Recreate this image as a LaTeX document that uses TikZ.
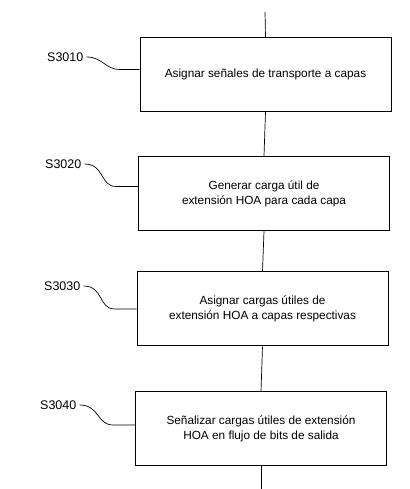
\documentclass[tikz,border=0pt]{standalone}
\usepackage{fontspec}
\setmainfont{Liberation Sans}
\begin{document}
\begin{tikzpicture}[x=1pt,y=1pt,
  stepbox/.style={draw, line width=1pt, minimum width=251pt, minimum height=74pt, align=center, font=\fontsize{11.8}{15}\selectfont, inner sep=0pt},
  steplabel/.style={font=\fontsize{12.5}{14}\selectfont, anchor=west, inner sep=1pt},
  flow/.style={line width=0.7pt},
  leader/.style={line width=0.7pt}]
\useasboundingbox (0,0) rectangle (409,489);
\fill[white] (0,0) rectangle (409,489);
\node[stepbox] (b1) at (265.5,414.5) {Asignar señales de transporte a capas};
\node[stepbox] (b2) at (264,295.5) {Generar carga útil de\\extensión HOA para cada capa};
\node[stepbox] (b3) at (262.5,180) {Asignar cargas útiles de\\extensión HOA a capas respectivas};
\node[stepbox] (b4) at (261,60) {Señalizar cargas útiles de extensión\\HOA en flujo de bits de salida};
\coordinate (top) at (265,477);
\coordinate (bot) at (261,0);
\draw[flow] (top) -- (b1.north);
\draw[flow] (b1.south) -- (b2.north);
\draw[flow] (b2.south) -- (b3.north);
\draw[flow] (b3.south) -- (b4.north);
\draw[flow] (b4.south) -- (bot);
\node[steplabel] (l1) at (46,432) {S3010};
\node[steplabel] (l2) at (44,325) {S3020};
\node[steplabel] (l3) at (43,203) {S3030};
\node[steplabel] (l4) at (39,84) {S3040};
\coordinate (e1) at ([yshift=5pt]b1.west);
\coordinate (e2) at ([yshift=7pt]b2.west);
\coordinate (e3) at ([yshift=0pt]b3.west);
\coordinate (e4) at ([yshift=4pt]b4.west);
\draw[leader] ([xshift=2pt]l1.east) .. controls +(16,0) and +(-14,0) .. ([xshift=-20pt]e1) -- (e1);
\draw[leader] ([xshift=2pt]l2.east) .. controls +(20,0) and +(-16,0) .. ([xshift=-22pt]e2) -- (e2);
\draw[leader] ([xshift=2pt]l3.east) .. controls +(20,0) and +(-16,0) .. ([xshift=-22pt]e3) -- (e3);
\draw[leader] ([xshift=2pt]l4.east) .. controls +(20,0) and +(-16,0) .. ([xshift=-22pt]e4) -- (e4);
\end{tikzpicture}
\end{document}
